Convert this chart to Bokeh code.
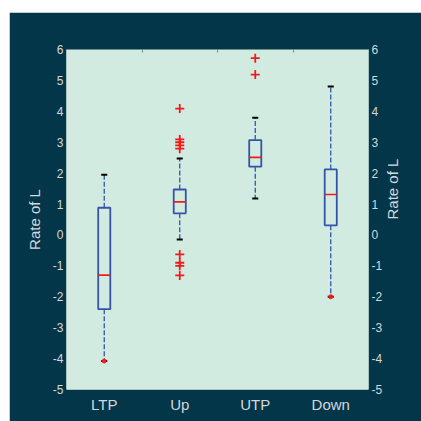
import math
import numpy as np
from bokeh.plotting import figure
from bokeh.models import Range1d, LinearAxis, FixedTicker, ColumnDataSource
from bokeh.embed import file_html
from bokeh.resources import INLINE

# ---- data ----
cats = ["LTP", "Up", "UTP", "Down"]
q1 = [-2.40, 0.70, 2.21, 0.31]
med = [-1.30, 1.07, 2.51, 1.31]
q3 = [0.88, 1.47, 3.07, 2.12]
w_lo = [-4.08, -0.15, 1.18, -2.00]
w_hi = [1.95, 2.47, 3.79, 4.80]
out_cat = ["Up", "Up", "Up", "Up", "Up", "Up", "Up", "Up", "Up", "UTP", "UTP"]
out_val = [4.09, 3.09, 3.00, 2.90, 2.79, -0.63, -0.90, -1.00, -1.31, 5.72, 5.19]
dot_cat = ["LTP", "Down"]
dot_val = [-4.08, -2.00]
yticks = [-5, -4, -3, -2, -1, 0, 1, 2, 3, 4, 5, 6]

BG = "#033649"
PANEL = "#d1ebe0"
TXT = "#d3d9dc"
BLUE = "#3553a8"
RED = "#f01c1c"
FONT = "Liberation Sans"

pos = np.arange(1, len(cats) + 1, dtype=float)
idx = {c: i for i, c in enumerate(cats)}
hw = 0.08   # half box width
cw = 0.04   # half cap width

p = figure(width=412, height=409,
           x_range=Range1d(0.5, len(cats) + 0.5), y_range=Range1d(-5, 6),
           output_backend="svg", toolbar_location=None,
           min_border_left=57, min_border_right=53, min_border_top=37, min_border_bottom=32,
           background_fill_color=PANEL, border_fill_color=BG, outline_line_color=None)
p.margin = (12, 0, 0, 9)
p.grid.visible = False

src = ColumnDataSource(dict(x=pos, xl=pos - hw, xr=pos + hw, cl=pos - cw, cr=pos + cw,
                            q1=q1, q3=q3, med=med, lo=w_lo, hi=w_hi))

# whiskers
p.segment(x0="x", y0="q3", x1="x", y1="hi", source=src, line_color=BLUE,
          line_width=1.3, line_dash="5 2")
p.segment(x0="x", y0="q1", x1="x", y1="lo", source=src, line_color=BLUE,
          line_width=1.3, line_dash="5 2")
# caps
p.segment(x0="cl", y0="hi", x1="cr", y1="hi", source=src, line_color="black", line_width=2)
p.segment(x0="cl", y0="lo", x1="cr", y1="lo", source=src, line_color="black", line_width=2)
# boxes
p.vbar(x="x", width=2 * hw, bottom="q1", top="q3", source=src, fill_color=None,
       line_color=BLUE, line_width=1.8)
# medians
p.segment(x0="xl", y0="med", x1="xr", y1="med", source=src, line_color=RED, line_width=1.6)
# outliers
p.scatter(x=[pos[idx[c]] for c in out_cat], y=out_val, marker="cross", size=9,
          line_color=RED, line_width=1.8)
p.scatter(x=[pos[idx[c]] for c in dot_cat], y=dot_val, marker="circle", size=4,
          line_color=RED, fill_color=RED)

def style_y(ax):
    ax.ticker = FixedTicker(ticks=yticks)
    ax.major_label_overrides = {v: str(v) for v in yticks}
    ax.axis_label = "Rate of L"
    ax.axis_label_text_font = FONT
    ax.axis_label_text_font_size = "15px"
    ax.axis_label_text_font_style = "normal"
    ax.axis_label_text_color = TXT
    ax.axis_label_standoff = 7
    ax.major_label_text_font = FONT
    ax.major_label_text_font_size = "12px"
    ax.major_label_text_color = TXT
    ax.major_label_standoff = 3
    ax.major_tick_in = 0
    ax.major_tick_out = 0
    ax.minor_tick_in = 0
    ax.minor_tick_out = 0
    ax.axis_line_color = None

style_y(p.yaxis[0])
ry = LinearAxis()
style_y(ry)
ry.axis_label_orientation = math.pi / 2
p.add_layout(ry, "right")

xa = p.xaxis[0]
xa.ticker = FixedTicker(ticks=list(pos))
xa.major_label_overrides = {float(v): c for v, c in zip(pos, cats)}
xa.major_label_text_font = FONT
xa.major_label_text_font_size = "15px"
xa.major_label_text_color = TXT
xa.major_label_standoff = 6
xa.major_tick_in = 0
xa.major_tick_out = 0
xa.minor_tick_in = 0
xa.minor_tick_out = 0
xa.axis_line_color = None

# faint separators on top edge
top = LinearAxis(ticker=FixedTicker(ticks=list((pos[:-1] + pos[1:]) / 2)))
top.major_label_text_font_size = "0px"
top.major_label_text_color = None
top.major_label_standoff = 0
top.major_tick_in = 3
top.major_tick_out = 0
top.major_tick_line_color = "#6c8c90"
top.minor_tick_in = 0
top.minor_tick_out = 0
top.axis_line_color = "#6c9090"
p.add_layout(top, "above")

open("out.html", "w").write(file_html(p, INLINE))
